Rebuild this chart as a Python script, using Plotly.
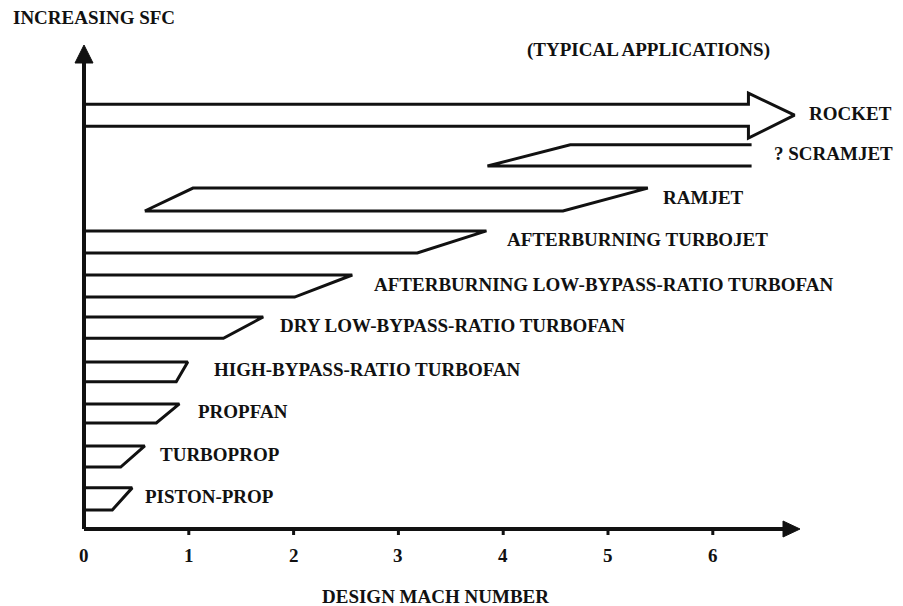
import plotly.graph_objects as go

# Engine families, ordered by increasing specific fuel consumption
engines = [
    "PISTON-PROP",
    "TURBOPROP",
    "PROPFAN",
    "HIGH-BYPASS-RATIO TURBOFAN",
    "DRY LOW-BYPASS-RATIO TURBOFAN",
    "AFTERBURNING LOW-BYPASS-RATIO TURBOFAN",
    "AFTERBURNING TURBOJET",
    "RAMJET",
    "? SCRAMJET",
    "ROCKET",
]

# Design Mach number spans of each band (lower edge and upper edge)
mach_low_start = [0, 0, 0, 0, 0, 0, 0, 0.58, 3.85, 0]
mach_low_end = [0.27, 0.35, 0.69, 0.88, 1.33, 2.01, 3.18, 4.57, 6.37, 6.34]
mach_high_start = [0, 0, 0, 0, 0, 0, 0, 1.04, 4.64, 0]
mach_high_end = [0.46, 0.58, 0.91, 0.99, 1.71, 2.56, 3.84, 5.38, 6.37, 6.34]

# Relative SFC level of each band (lower / upper edge)
sfc_low = [0.45, 1.46, 2.50, 3.47, 4.50, 5.47, 6.51, 7.50, 8.56, 9.50]
sfc_high = [0.97, 1.96, 2.95, 3.94, 5.00, 5.99, 7.03, 8.04, 9.06, 10.02]

# Rocket arrow head
rocket_tip_mach = 6.78
rocket_head_low = 9.22
rocket_head_high = 10.28

mach_ticks = [0, 1, 2, 3, 4, 5, 6]

# ---- layout geometry (pixels) ----
W, H = 903, 606
X0_PX, PX_PER_MACH = 84, 104.8
Y0_PX, PX_PER_SFC = 529, 42.4

x_range = [-X0_PX / PX_PER_MACH, (W - X0_PX) / PX_PER_MACH]
y_range = [(Y0_PX - H) / PX_PER_SFC, Y0_PX / PX_PER_SFC]


def px_to_x(px):
    return (px - X0_PX) / PX_PER_MACH


def py_to_y(py):
    return (Y0_PX - py) / PX_PER_SFC


INK = "#111111"
LW = 3
FONT = dict(family="Liberation Serif", size=19, color=INK, weight="bold")

fig = go.Figure()


def add_line(xs, ys, width=LW, fill=False):
    fig.add_trace(go.Scatter(
        x=xs, y=ys, mode="lines",
        line=dict(color=INK, width=width),
        fill="toself" if fill else None,
        fillcolor=INK if fill else None,
        hoverinfo="skip", showlegend=False,
    ))


label_gap_px = [11, 13, 17, 24, 15, 20, 19, 13, 20, 12]

for i, name in enumerate(engines):
    lo, hi = sfc_low[i], sfc_high[i]
    if name == "ROCKET":
        mid = (lo + hi) / 2
        xs = [0, mach_high_end[i], mach_high_end[i], rocket_tip_mach,
              mach_low_end[i], mach_low_end[i], 0]
        ys = [hi, hi, rocket_head_high, mid, rocket_head_low, lo, lo]
        right = rocket_tip_mach
    elif name == "RAMJET":
        xs = [mach_low_start[i], mach_high_start[i], mach_high_end[i],
              mach_low_end[i], mach_low_start[i]]
        ys = [lo, hi, hi, lo, lo]
        right = max(mach_high_end[i], mach_low_end[i])
    elif name == "? SCRAMJET":
        xs = [mach_high_end[i], mach_high_start[i], mach_low_start[i],
              mach_low_end[i]]
        ys = [hi, hi, lo, lo]
        right = max(mach_high_end[i], mach_low_end[i])
    else:
        xs = [mach_high_start[i], mach_high_end[i], mach_low_end[i],
              mach_low_start[i]]
        ys = [hi, hi, lo, lo]
        right = max(mach_high_end[i], mach_low_end[i])
    add_line(xs, ys)
    fig.add_annotation(
        x=right, y=(lo + hi) / 2, xref="x", yref="y",
        text=name, showarrow=False, xanchor="left", yanchor="middle",
        xshift=label_gap_px[i], yshift=2, font=FONT,
    )

# Axes with arrow heads
y_tip = py_to_y(45)
y_base = py_to_y(63)
half_w = 9 / PX_PER_MACH
add_line([0, 0], [0, y_base + 0.05], width=4)
add_line([-half_w, 0, half_w, -half_w], [y_base, y_tip, y_base, y_base],
         width=1, fill=True)

x_tip = px_to_x(800)
x_base = px_to_x(783)
half_h = 8 / PX_PER_SFC
add_line([0, x_base + 0.02], [0, 0], width=4)
add_line([x_base, x_tip, x_base, x_base], [-half_h, 0, half_h, -half_h],
         width=1, fill=True)

# Tick marks and labels
tick_len = 6 / PX_PER_SFC
for m in mach_ticks:
    if m > 0:
        add_line([m, m], [0, -tick_len], width=3)
    fig.add_annotation(x=m, y=py_to_y(555), xref="x", yref="y",
                       text=str(m), showarrow=False, font=FONT,
                       xanchor="center", yanchor="middle")

fig.add_annotation(x=px_to_x(435), y=py_to_y(596), xref="x", yref="y",
                   text="DESIGN MACH NUMBER", showarrow=False, font=FONT,
                   xanchor="center", yanchor="middle")
fig.add_annotation(x=px_to_x(177), y=py_to_y(17), xref="x", yref="y",
                   text="INCREASING SFC", showarrow=False, font=FONT,
                   xanchor="right", yanchor="middle")
fig.add_annotation(x=px_to_x(525), y=py_to_y(50), xref="x", yref="y",
                   text="(TYPICAL APPLICATIONS)", showarrow=False, font=FONT,
                   xanchor="left", yanchor="middle")

fig.update_layout(
    width=W, height=H, autosize=False,
    margin=dict(l=0, r=0, t=0, b=0),
    paper_bgcolor="white", plot_bgcolor="white",
    xaxis=dict(range=x_range, visible=False, fixedrange=True),
    yaxis=dict(range=y_range, visible=False, fixedrange=True),
)

fig.write_html("out.html", config={"displayModeBar": False})
